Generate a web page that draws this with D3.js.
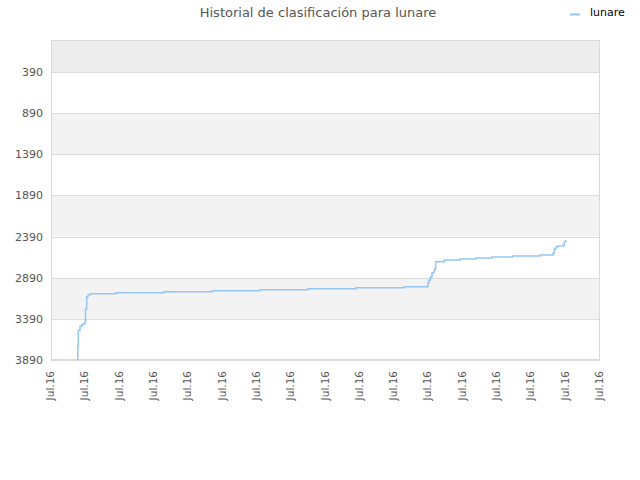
<!DOCTYPE html>
<html>
<head>
<meta charset="utf-8">
<script src="https://cdn.jsdelivr.net/npm/d3@7"></script>
<style>
  html, body { margin: 0; padding: 0; background: #fff; }
  svg { display: block; font-family: "DejaVu Sans", sans-serif; }
</style>
</head>
<body>
<svg id="chart" width="640" height="480"></svg>
<script>
// ---- data ----
const seriesName = "lunare";
const dates = [
  "2016-07-01T18:41", "2016-07-01T18:43", "2016-07-01T19:06", "2016-07-01T20:17",
  "2016-07-01T21:41", "2016-07-01T23:26", "2016-07-02T00:08", "2016-07-02T00:58",
  "2016-07-02T01:53", "2016-07-02T03:17", "2016-07-02T21:28", "2016-07-04T07:02",
  "2016-07-05T16:37", "2016-07-07T02:11", "2016-07-08T11:45", "2016-07-09T21:20",
  "2016-07-11T06:55", "2016-07-11T23:41", "2016-07-12T00:23", "2016-07-12T01:26",
  "2016-07-12T02:29", "2016-07-12T03:53", "2016-07-12T04:44", "2016-07-12T05:05",
  "2016-07-12T11:05", "2016-07-12T22:04", "2016-07-13T09:16", "2016-07-13T20:14",
  "2016-07-14T10:56", "2016-07-15T06:02", "2016-07-15T15:07", "2016-07-15T16:02",
  "2016-07-15T17:13", "2016-07-15T18:50", "2016-07-15T22:20", "2016-07-15T23:02",
  "2016-07-16T00:01"
];
const ranks = [
  3890, 3720, 3530, 3480,
  3455, 3437, 3270, 3120,
  3100, 3084, 3072, 3060,
  3048, 3036, 3024, 3011,
  2999, 2950, 2918, 2880,
  2830, 2795, 2772, 2695,
  2675, 2663, 2650, 2638,
  2626, 2614, 2593, 2541,
  2513, 2505, 2496, 2452,
  2432
];
const yTicks = [390, 890, 1390, 1890, 2390, 2890, 3390, 3890];
const yDomain = [1, 3890];
const xDomain = ["2016-07-01T00:00", "2016-07-17T00:00"];
const xTickDates = [
  "2016-07-01", "2016-07-02", "2016-07-03", "2016-07-04", "2016-07-05",
  "2016-07-06", "2016-07-07", "2016-07-08", "2016-07-09", "2016-07-10",
  "2016-07-11", "2016-07-12", "2016-07-13", "2016-07-14", "2016-07-15",
  "2016-07-16", "2016-07-17"
];
const titleText = "Historial de clasificación para lunare";

// ---- layout ----
const margin = { left: 51, right: 40, top: 40, bottom: 120 };
const W = 640, H = 480;
const pw = W - margin.left - margin.right;   // 549
const ph = H - margin.top - margin.bottom;   // 320
const lineColor = "#94c6f4";

const parseT = d3.timeParse("%Y-%m-%dT%H:%M");
const parseD = d3.timeParse("%Y-%m-%d");
const data = dates.map((d, i) => ({ t: parseT(d), r: ranks[i] }));

const svg = d3.select("#chart");
const g = svg.append("g").attr("transform", `translate(${margin.left},${margin.top})`);

const x = d3.scaleTime().domain(xDomain.map(parseT)).range([0, pw]);
const y = d3.scaleLinear().domain(yDomain).range([0, ph]);

// bands
const bandEdges = [yDomain[0]].concat(yTicks);
for (let i = 0; i < bandEdges.length - 1; i++) {
  const y0 = y(bandEdges[i]), y1 = y(bandEdges[i + 1]);
  let fill;
  if (i === 0) fill = "#ededed";
  else fill = (i % 2 === 0) ? "#f3f3f3" : "#ffffff";
  g.append("rect").attr("x", 0).attr("y", y0).attr("width", pw).attr("height", y1 - y0).attr("fill", fill);
}

// grid lines
g.selectAll("line.grid").data(yTicks).enter().append("line")
  .attr("x1", 0).attr("x2", pw)
  .attr("y1", d => Math.round(y(d)) + 0.5).attr("y2", d => Math.round(y(d)) + 0.5)
  .attr("stroke", "#dcdcdc").attr("stroke-width", 1);

// border
g.append("rect").attr("x", 0.5).attr("y", 0.5).attr("width", pw - 1).attr("height", ph - 1)
  .attr("fill", "none").attr("stroke", "#d9d9d9");

// y axis labels
const yAxis = d3.axisLeft(y).tickValues(yTicks).tickFormat(d3.format("d")).tickSize(0).tickPadding(8);
const ya = g.append("g").call(yAxis);
ya.select(".domain").remove();
ya.selectAll("text").attr("font-size", 11).attr("fill", "#555")
  .attr("font-family", "DejaVu Sans, sans-serif");

// x axis labels
const xAxis = d3.axisBottom(x).tickValues(xTickDates.map(parseD))
  .tickFormat(d3.timeFormat("%b.%y")).tickSize(0).tickPadding(0);
const xa = g.append("g").attr("transform", `translate(0,${ph})`).call(xAxis);
xa.select(".domain").remove();
xa.selectAll("text")
  .attr("font-size", 10.5).attr("fill", "#555")
  .attr("font-family", "DejaVu Sans, sans-serif")
  .attr("text-anchor", "end")
  .attr("dy", null)
  .attr("y", 0)
  .attr("transform", "translate(2.5,11) rotate(-90)");

// line
const line = d3.line().x(d => x(d.t)).y(d => y(d.r)).curve(d3.curveStepAfter);
g.append("path").datum(data).attr("d", line)
  .attr("fill", "none").attr("stroke", lineColor).attr("stroke-width", 1.5);

// title
svg.append("text").attr("x", 318).attr("y", 17).attr("text-anchor", "middle")
  .attr("font-size", 13).attr("fill", "#555").text(titleText);

// legend
svg.append("line").attr("x1", 570).attr("x2", 580).attr("y1", 14.5).attr("y2", 14.5)
  .attr("stroke", lineColor).attr("stroke-width", 2);
svg.append("text").attr("x", 590).attr("y", 16).attr("font-size", 11).attr("fill", "#000")
  .text(seriesName);
</script>
</body>
</html>
